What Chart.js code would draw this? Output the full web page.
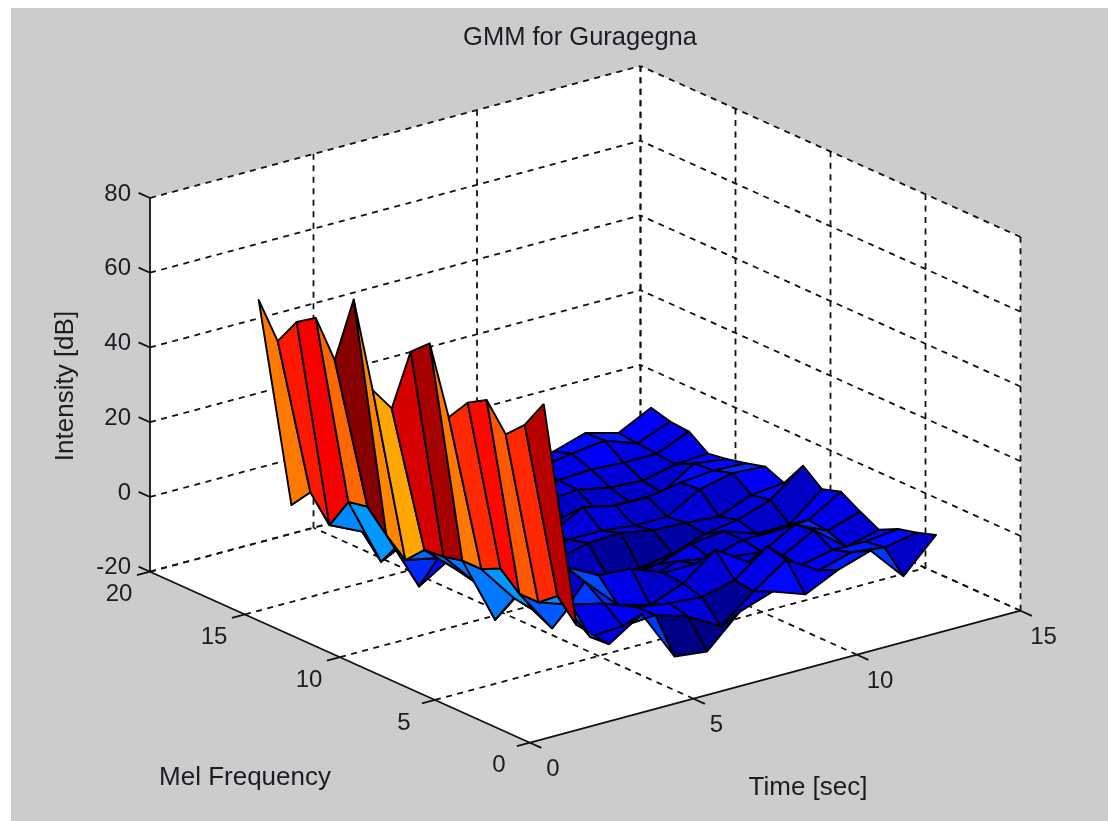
<!DOCTYPE html>
<html>
<head>
<meta charset="utf-8">
<title>GMM for Guragegna</title>
<script src="https://cdn.jsdelivr.net/npm/chart.js@4/dist/chart.umd.min.js"></script>
<style>
  html, body { margin: 0; padding: 0; background: #fff; overflow: hidden; }
  #bg { position: absolute; left: 11px; top: 8px; right: 0; bottom: 0; background: #ccc; }
  #wrap { position: absolute; left: 0; top: 0; width: 1108px; height: 821px; }
</style>
</head>
<body>
<div id="bg"></div>
<div id="wrap"><canvas id="c" width="1108" height="821"></canvas></div>
<script>
var titleText = 'GMM for Guragegna';
var timeLabel = 'Time [sec]';
var melLabel = 'Mel Frequency';
var zLabel = 'Intensity [dB]';

var timeTicks = [0, 5, 10, 15];
var melTicks = [0, 5, 10, 15, 20];
var zTicks = [-20, 0, 20, 40, 60, 80];

var timeValues = [1, 2, 3, 4, 5, 6, 7, 8, 9, 10, 11, 12, 13];
var melValues = [16, 15, 14, 13, 12, 11, 10, 9, 8, 7, 6, 5, 4, 3, 2, 1];

// one row per mel band (same order as melValues), one column per time step
var intensity = [
  [59.5, 2.3, 12, 5, 0, -2, -3, -3, -3, -2.3, 0.4, -2, 2.4],
  [50.8, 8, 5, 2, -2, -3, -3, -3, -2, -0.5, 0.6, -2.5, 1],
  [58.2, 1.5, -2.6, -4, -4, -4, -4, -4, -3, -2.5, -3, -3, 0.6],
  [61.6, 10, -8.4, -4, -5, -5, -5, -4, -3.3, -5, -5.5, -3.5, -3],
  [52.6, 11, -1.1, -6, -5, -6, -6, -5.9, -6.4, -6.5, -6.5, -1, -2.2],
  [71.1, 5.7, -10.4, -5, -6, -6, -6, -1, -3, -3, -1.5, -0.6, -1],
  [49.1, 1.3, -0.5, -4, -6, -6, -5, -5, -6, -6, -1, 1, 0.4],
  [46.5, 6.3, -1.4, -4, -5, -6, -3.7, -3.3, -4.9, -5.3, -6, -2.6, -1.7],
  [64, 6.8, -2.6, -3, -6, -8, -9.9, -10.4, -9, -6, -4.6, -1.6, 5.2],
  [68.5, 8, -10.2, -3, -6, -7, -8, -7, -4, -3, -6, -6, 1.2],
  [51, 8, -2.1, -4, -5, -6, -7, -4, -5.6, -3, -3, -2.4, 2.8],
  [57.2, 10.5, -3, 6.2, 1.6, 1, -2.5, -2.3, -3, -4, 1, -3, -0.2],
  [60.2, 6, -5.6, 4.5, -4, -6.5, -3, 3.6, -2, -3, 1.8, -5, -2.8],
  [53.3, 6, 3, 1, -2.4, -3.7, -4.4, -2.2, 4.4, -3, -1.2, -1.3, -0.3],
  [58.1, 10, -3.3, -2.8, -2.2, -5, -9.9, -3, 3.2, -2, 0.5, -0.6, 1],
  [66, 4.5, -3, 2.7, -11, -12, -3.7, -0.7, -3.8, 0.4, 3.2, -6, 2.7]
];

// view transform: matlab default view, fitted to the box corners in the picture
var view = { ox: 530, oy: 742.7, tx: 32.7, ty: -8.8, mx: -19, my: -8.55, zy: -3.737 };

function project(t, m, z) {
  return {
    x: view.ox + view.tx * t + view.mx * m,
    y: view.oy + view.ty * t + view.my * m + view.zy * (z + 20)
  };
}

function jet(c) {
  // 64 level jet, like the matlab colormap
  var v = (Math.min(63, Math.floor(c * 64)) + 0.5) / 64;
  function ramp(x) { return Math.round(255 * Math.max(0, Math.min(1, x))); }
  return 'rgb(' + ramp(1.5 - Math.abs(4 * v - 3)) + ',' + ramp(1.5 - Math.abs(4 * v - 2)) + ',' + ramp(1.5 - Math.abs(4 * v - 1)) + ')';
}

var zMin = Infinity, zMax = -Infinity;
intensity.forEach(function(row) {
  row.forEach(function(v) { zMin = Math.min(zMin, v); zMax = Math.max(zMax, v); });
});

function line3d(points, width, dash) {
  return {
    data: points.map(function(p) { return project(p[0], p[1], p[2]); }),
    showLine: true, pointRadius: 0, fill: false, clip: false, tension: 0,
    borderColor: '#111', borderWidth: width, borderDash: dash || [],
    borderCapStyle: 'butt', borderJoinStyle: 'round'
  };
}

function wall3d(points) {
  return {
    data: points.map(function(p) { return project(p[0], p[1], p[2]); }),
    showLine: true, pointRadius: 0, fill: 'shape', clip: false, tension: 0,
    borderWidth: 0, borderColor: '#fff', backgroundColor: '#fff'
  };
}

// drawn back to front, reversed at the end since chart.js paints index 0 last
var layers = [];
var tEnd = 15, mEnd = 20, zLo = -20, zHi = 80;
var grid = [6, 5.5];

layers.push(wall3d([[0, mEnd, zLo], [tEnd, mEnd, zLo], [tEnd, mEnd, zHi], [0, mEnd, zHi], [0, mEnd, zLo]]));
layers.push(wall3d([[tEnd, 0, zLo], [tEnd, mEnd, zLo], [tEnd, mEnd, zHi], [tEnd, 0, zHi], [tEnd, 0, zLo]]));
layers.push(wall3d([[0, 0, zLo], [tEnd, 0, zLo], [tEnd, mEnd, zLo], [0, mEnd, zLo], [0, 0, zLo]]));

timeTicks.forEach(function(t) {
  if (t > 0) layers.push(line3d([[t, 0, zLo], [t, mEnd, zLo]], 1.8, grid));
  if (t > 0) layers.push(line3d([[t, mEnd, zLo], [t, mEnd, zHi]], 1.8, grid));
});
melTicks.forEach(function(m) {
  if (m > 0 && m < mEnd) layers.push(line3d([[0, m, zLo], [tEnd, m, zLo]], 1.8, grid));
  if (m === mEnd) layers.push(line3d([[0, m, zLo], [tEnd, m, zLo]], 1.8, grid));
  layers.push(line3d([[tEnd, m, zLo], [tEnd, m, zHi]], 1.8, grid));
});
zTicks.forEach(function(z) {
  layers.push(line3d([[0, mEnd, z], [tEnd, mEnd, z]], 1.8, grid));
  layers.push(line3d([[tEnd, 0, z], [tEnd, mEnd, z]], 1.8, grid));
});

// surface, far corner first. each face takes the colour of its low time / low mel corner
for (var ti = timeValues.length - 2; ti >= 0; ti--) {
  for (var mi = 0; mi < melValues.length - 1; mi++) {
    var t0 = timeValues[ti], t1 = timeValues[ti + 1];
    var mHi = melValues[mi], mLo = melValues[mi + 1];
    var corner = intensity[mi + 1][ti];
    layers.push({
      data: [
        project(t0, mLo, corner),
        project(t1, mLo, intensity[mi + 1][ti + 1]),
        project(t1, mHi, intensity[mi][ti + 1]),
        project(t0, mHi, intensity[mi][ti]),
        project(t0, mLo, corner)
      ],
      showLine: true, pointRadius: 0, fill: 'shape', clip: false, tension: 0,
      borderColor: '#000', borderWidth: 1.9, borderJoinStyle: 'round',
      backgroundColor: jet((corner - zMin) / (zMax - zMin))
    });
  }
}

// axis lines and ticks sit on top
layers.push(line3d([[0, mEnd, zLo], [0, mEnd, zHi]], 1.8));
layers.push(line3d([[0, 0, zLo], [0, mEnd, zLo]], 1.8));
layers.push(line3d([[0, 0, zLo], [tEnd, 0, zLo]], 1.8));
timeTicks.forEach(function(t) { layers.push(line3d([[t, 0, zLo], [t, -0.6, zLo]], 1.8)); });
melTicks.forEach(function(m) { layers.push(line3d([[0, m, zLo], [-0.4, m, zLo]], 1.8)); });
zTicks.forEach(function(z) { layers.push(line3d([[0, mEnd, z], [0, mEnd + 0.6, z]], 1.8)); });

var textPlugin = {
  id: 'labels3d',
  afterDraw: function(chart) {
    var ctx = chart.ctx;
    var xs = chart.scales.x, ys = chart.scales.y;
    function put(text, x, y, align, angle) {
      ctx.save();
      ctx.translate(xs.getPixelForValue(x), ys.getPixelForValue(y));
      if (angle) ctx.rotate(angle);
      ctx.textAlign = align || 'center';
      ctx.textBaseline = 'middle';
      ctx.fillText(text, 0, 0);
      ctx.restore();
    }
    ctx.save();
    ctx.fillStyle = '#1c1c24';
    ctx.font = '24px "Liberation Sans", Arial, sans-serif';
    timeTicks.forEach(function(t) {
      var p = project(t, 0, zLo);
      put(String(t), p.x + 23, p.y + 27);
    });
    melTicks.forEach(function(m) {
      var p = project(0, m, zLo);
      put(String(m), p.x - 31, p.y + 23);
    });
    zTicks.forEach(function(z) {
      var p = project(0, mEnd, z);
      put(String(z), p.x - 19, p.y - 4, 'right');
    });
    ctx.font = '25.5px "Liberation Sans", Arial, sans-serif';
    put(titleText, 580, 38);
    ctx.font = '26px "Liberation Sans", Arial, sans-serif';
    put(melLabel, 245, 778);
    put(timeLabel, 808, 788);
    put(zLabel, 66, 386, 'center', -Math.PI / 2);
    ctx.restore();
  }
};

new Chart(document.getElementById('c'), {
  type: 'scatter',
  data: { datasets: layers.reverse() },
  plugins: [textPlugin],
  options: {
    responsive: false,
    animation: false,
    layout: { padding: 0 },
    plugins: { legend: { display: false }, tooltip: { enabled: false }, title: { display: false } },
    scales: {
      x: { type: 'linear', display: false, min: 0, max: 1108 },
      y: { type: 'linear', display: false, min: 0, max: 821, reverse: true }
    }
  }
});
</script>
</body>
</html>
